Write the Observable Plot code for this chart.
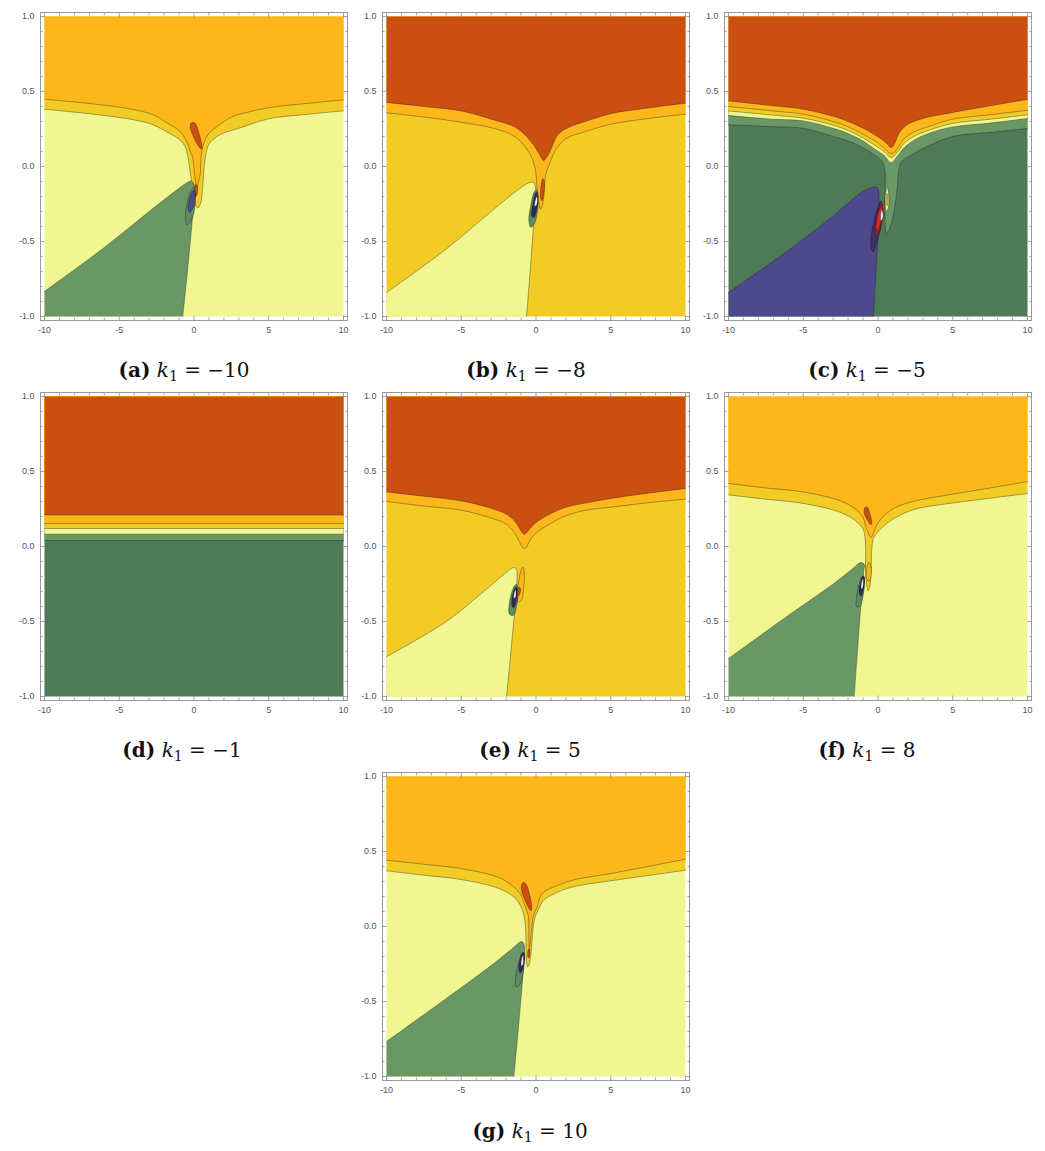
<!DOCTYPE html>
<html>
<head>
<meta charset="utf-8">
<script src="https://cdn.jsdelivr.net/npm/d3@7"></script>
<script src="https://cdn.jsdelivr.net/npm/@observablehq/plot@0.6"></script>
<style>
  body { margin: 0; background: #fff; }
  #fig { position: relative; width: 1045px; height: 1151px; overflow: hidden; }
  .panel { position: absolute; }
  .cap { position: absolute; width: 320px; text-align: center; font-family: "DejaVu Serif", serif; font-size: 20px; line-height: 24px; color: #111; white-space: nowrap; }
  .cap sub { font-size: 0.7em; vertical-align: -0.3em; line-height: 0; }
</style>
</head>
<body>
<div id="fig"></div>
<script>
// Contour fill colours
const R = "#cc4f12", O = "#fdb71b", G = "#f2cb25", Y = "#f1f790", LG = "#699866", DG = "#4e7a58",
      G2 = "#5c8b61", P = "#4d498c", DP = "#3e3262", NAVY = "#2a2c5c", RED = "#e0262a", DRED = "#93202e", W = "#ffffff";
const LINE = "#1a1a1a";

// Axis ticks
const xMajor = [-10, -5, 0, 5, 10];
const xMinor = [-9, -8, -7, -6, -4, -3, -2, -1, 1, 2, 3, 4, 6, 7, 8, 9];
const yMajor = [-1, -0.5, 0, 0.5, 1];
const yMinor = [-0.9, -0.8, -0.7, -0.6, -0.4, -0.3, -0.2, -0.1, 0.1, 0.2, 0.3, 0.4, 0.6, 0.7, 0.8, 0.9];

// Panel captions: label, k1 value
const capLabels = ["a", "b", "c", "d", "e", "f", "g"];
const k1Values = [-10, -8, -5, -1, 5, 8, 10];

// ---- (a) k1 = -10 ----
const aUpper = [[-10,0.449],[-7.5,0.425],[-5,0.396],[-3.5,0.368],[-2.5,0.335],[-1.8,0.29],[-1.0,0.24],[-0.5,0.17],[-0.25,0.1],[-0.09,0.06],[0.04,-0.05],[0.12,-0.11],[0.2,-0.14],[0.3,-0.1],[0.42,-0.05],[0.47,0.06],[0.64,0.15],[0.98,0.218],[1.53,0.265],[2.5,0.33],[3.5,0.36],[5,0.392],[7.5,0.42],[10,0.444]];
const aLower = [[-10,0.382],[-7.5,0.357],[-5,0.327],[-3.5,0.3],[-2.9,0.284],[-1.58,0.218],[-0.91,0.173],[-0.58,0.129],[-0.4,0.062],[-0.24,-0.05],[-0.09,-0.14],[0.04,-0.227],[0.15,-0.265],[0.27,-0.276],[0.4,-0.255],[0.49,-0.227],[0.58,-0.14],[0.64,-0.05],[0.76,0.062],[0.91,0.129],[1.2,0.173],[1.87,0.218],[3.1,0.258],[5,0.318],[7.5,0.347],[10,0.371]];
const aBlob = [[-0.1,0.295],[0.1,0.285],[0.28,0.24],[0.45,0.18],[0.54,0.13],[0.5,0.115],[0.35,0.13],[0.1,0.17],[-0.12,0.22],[-0.25,0.26],[-0.22,0.285]];
const aTip = [[0.1,-0.12],[0.22,-0.13],[0.2,-0.19],[0.1,-0.2],[0.05,-0.16]];
const aWedge = [[-10,-0.833],[-6,-0.54],[-3,-0.3],[-1.2,-0.16],[-0.5,-0.11],[-0.2,-0.097],[-0.02,-0.115],[0.03,-0.15],[-0.75,-1]];
const aOuter = [[-0.02,-0.14],[0.08,-0.19],[0.05,-0.28],[-0.2,-0.36],[-0.47,-0.39],[-0.58,-0.34],[-0.45,-0.24],[-0.2,-0.16]];
const aInner = [[0.05,-0.16],[0.09,-0.2],[-0.05,-0.27],[-0.3,-0.305],[-0.4,-0.28],[-0.25,-0.2],[-0.05,-0.16]];

// ---- (b) k1 = -8 ----
const bUpper = [[-10,0.427],[-7.5,0.4],[-5,0.37],[-2.7,0.307],[-1.37,0.262],[-0.48,0.184],[0.08,0.107],[0.35,0.06],[0.52,0.04],[0.7,0.06],[0.97,0.107],[1.42,0.207],[2.2,0.262],[3.3,0.3],[5,0.352],[7.5,0.39],[10,0.422]];
const bLower = [[-10,0.358],[-7.5,0.33],[-5,0.295],[-2.7,0.251],[-1.37,0.196],[-0.48,0.096],[-0.08,-0.004],[0.03,-0.08],[0.08,-0.16],[0.18,-0.24],[0.3,-0.285],[0.42,-0.26],[0.52,-0.2],[0.6,-0.1],[0.66,-0.05],[0.86,0.007],[1.3,0.107],[1.97,0.184],[3.3,0.232],[5,0.282],[7.5,0.32],[10,0.349]];
const bTip = [[0.45,-0.08],[0.55,-0.1],[0.52,-0.18],[0.4,-0.23],[0.3,-0.2],[0.35,-0.12]];
const bWedge = [[-10,-0.84],[-6,-0.55],[-3,-0.3],[-1.2,-0.155],[-0.5,-0.11],[-0.2,-0.105],[-0.05,-0.13],[-0.03,-0.17],[-0.63,-1]];
const bOuter = [[0.05,-0.155],[0.15,-0.2],[0.1,-0.3],[-0.1,-0.38],[-0.35,-0.405],[-0.48,-0.36],[-0.35,-0.26],[-0.12,-0.17]];
const bMid = [[0.05,-0.17],[0.12,-0.21],[0.05,-0.29],[-0.15,-0.34],[-0.3,-0.33],[-0.2,-0.25],[-0.05,-0.18]];
const bCore = [[0.05,-0.2],[0.1,-0.22],[0.02,-0.26],[-0.08,-0.265],[-0.06,-0.23]];

// ---- (c) k1 = -5 ----
const cRO = [[-10,0.437],[-7,0.405],[-5,0.382],[-3,0.335],[-2,0.3],[-1,0.255],[-0.2,0.21],[0.4,0.17],[0.75,0.135],[0.9,0.125],[1.1,0.15],[1.4,0.22],[1.9,0.275],[3,0.32],[5,0.36],[7.5,0.405],[10,0.447]];
const cOG = [[-10,0.4],[-7,0.37],[-5,0.349],[-3,0.3],[-2,0.265],[-1,0.215],[-0.2,0.17],[0.4,0.125],[0.9,0.085],[1.3,0.12],[1.7,0.18],[2.4,0.23],[3.5,0.27],[5,0.316],[7.5,0.345],[10,0.375]];
const cGY = [[-10,0.37],[-7,0.342],[-5,0.322],[-3,0.275],[-2,0.24],[-1,0.19],[-0.2,0.14],[0.4,0.1],[0.88,0.06],[1.3,0.095],[1.7,0.15],[2.4,0.2],[3.5,0.245],[5,0.287],[7.5,0.315],[10,0.345]];
const cYL = [[-10,0.34],[-7,0.315],[-5,0.304],[-3,0.255],[-2,0.22],[-1,0.17],[-0.2,0.115],[0.4,0.075],[0.87,0.025],[1.3,0.07],[1.7,0.12],[2.4,0.175],[3.5,0.225],[5,0.264],[7.5,0.29],[10,0.32]];
const cLD = [[-10,0.278],[-7,0.265],[-5,0.255],[-3,0.2],[-2,0.17],[-1,0.125],[-0.2,0.075],[0.3,0.03],[0.45,-0.02],[0.48,-0.15],[0.47,-0.3],[0.5,-0.42],[0.58,-0.45],[0.75,-0.42],[0.95,-0.36],[1.15,-0.25],[1.3,-0.13],[1.38,-0.03],[1.55,0.03],[2.2,0.075],[3.2,0.13],[5,0.2],[7.5,0.228],[10,0.253]];
const cWedge = [[-10,-0.84],[-6,-0.56],[-3,-0.33],[-1.2,-0.18],[-0.4,-0.14],[-0.06,-0.14],[0.05,-0.17],[-0.32,-1]];
const cYel = [[0.62,-0.14],[0.72,-0.19],[0.7,-0.27],[0.55,-0.3],[0.47,-0.24],[0.52,-0.17]];
const cGold = [[0.6,-0.18],[0.66,-0.21],[0.62,-0.26],[0.55,-0.26],[0.54,-0.21]];
const cOuter = [[0.18,-0.23],[0.3,-0.28],[0.2,-0.4],[-0.05,-0.5],[-0.33,-0.57],[-0.49,-0.53],[-0.35,-0.4],[-0.05,-0.28]];
const cRing = [[0.25,-0.24],[0.33,-0.28],[0.25,-0.38],[0.05,-0.44],[-0.18,-0.46],[-0.2,-0.4],[-0.05,-0.32],[0.12,-0.26]];
const cRed = [[0.25,-0.26],[0.3,-0.29],[0.2,-0.37],[0.0,-0.42],[-0.12,-0.42],[-0.1,-0.36],[0.05,-0.3]];
const cCore = [[0.25,-0.29],[0.33,-0.31],[0.3,-0.35],[0.2,-0.36],[0.18,-0.32]];

// ---- (d) k1 = -1 ----
const dRO = [[-10,0.21],[10,0.21]];
const dOG = [[-10,0.153],[10,0.153]];
const dGY = [[-10,0.12],[10,0.12]];
const dYL = [[-10,0.082],[10,0.082]];
const dLD = [[-10,0.04],[10,0.04]];

// ---- (e) k1 = 5 ----
const eUpper = [[-10,0.364],[-7.5,0.335],[-5,0.304],[-3,0.255],[-2,0.216],[-1.5,0.178],[-1.15,0.13],[-0.95,0.095],[-0.8,0.082],[-0.65,0.09],[-0.4,0.12],[0,0.16],[1,0.22],[2,0.262],[3.5,0.293],[5,0.32],[7.5,0.355],[10,0.387]];
const eLower = [[-10,0.3],[-7.5,0.27],[-5,0.242],[-3,0.19],[-2,0.15],[-1.5,0.1],[-1.15,0.04],[-0.95,0.0],[-0.8,-0.016],[-0.65,-0.005],[-0.4,0.04],[0,0.09],[1,0.155],[2,0.205],[3.5,0.245],[5,0.262],[7.5,0.292],[10,0.316]];
const eWedge = [[-10,-0.735],[-6,-0.5],[-3.5,-0.3],[-2.2,-0.19],[-1.7,-0.15],[-1.45,-0.14],[-1.3,-0.155],[-1.26,-0.19],[-1.97,-1]];
const eOrange = [[-0.86,-0.14],[-0.78,-0.18],[-0.83,-0.28],[-0.98,-0.36],[-1.18,-0.37],[-1.24,-0.3],[-1.1,-0.2],[-0.95,-0.145]];
const eGreen = [[-1.27,-0.255],[-1.2,-0.3],[-1.3,-0.4],[-1.52,-0.46],[-1.78,-0.45],[-1.77,-0.37],[-1.57,-0.29],[-1.38,-0.255]];
const eNavy = [[-1.3,-0.27],[-1.24,-0.3],[-1.33,-0.37],[-1.5,-0.41],[-1.62,-0.39],[-1.55,-0.32],[-1.42,-0.28]];
const eCore = [[-1.36,-0.29],[-1.33,-0.31],[-1.38,-0.34],[-1.47,-0.345],[-1.46,-0.31]];
const eTip = [[-1.1,-0.27],[-1.04,-0.29],[-1.1,-0.32],[-1.22,-0.33],[-1.22,-0.29]];

// ---- (f) k1 = 8 ----
const fUpper = [[-10,0.42],[-7.5,0.39],[-5,0.364],[-2.5,0.304],[-1.5,0.249],[-1,0.193],[-0.8,0.127],[-0.6,0.08],[-0.46,0.06],[-0.3,0.09],[-0.17,0.127],[0.28,0.193],[1.17,0.26],[2.5,0.304],[5,0.349],[7.5,0.39],[10,0.433]];
const fLower = [[-10,0.344],[-7.5,0.315],[-5,0.287],[-2.5,0.227],[-1.5,0.171],[-1,0.116],[-0.85,0.038],[-0.82,-0.05],[-0.84,-0.15],[-0.78,-0.24],[-0.66,-0.295],[-0.55,-0.27],[-0.48,-0.2],[-0.44,-0.08],[-0.39,0.016],[-0.28,0.06],[0.28,0.127],[1.17,0.193],[2.5,0.249],[5,0.29],[7.5,0.322],[10,0.353]];
const fBlob = [[-0.93,0.24],[-0.85,0.262],[-0.7,0.26],[-0.55,0.22],[-0.42,0.165],[-0.45,0.145],[-0.58,0.155],[-0.75,0.185],[-0.9,0.215]];
const fOrange = [[-0.6,-0.105],[-0.45,-0.14],[-0.5,-0.21],[-0.65,-0.235],[-0.78,-0.2],[-0.72,-0.13]];
const fWedge = [[-10,-0.747],[-6,-0.46],[-3,-0.25],[-1.6,-0.14],[-1.2,-0.107],[-1.0,-0.11],[-0.9,-0.13],[-0.95,-0.16],[-1.59,-1]];
const fOuter = [[-0.95,-0.2],[-0.9,-0.24],[-1.0,-0.33],[-1.2,-0.4],[-1.43,-0.4],[-1.42,-0.33],[-1.25,-0.25],[-1.05,-0.2]];
const fNavy = [[-0.93,-0.2],[-0.9,-0.23],[-1.0,-0.3],[-1.15,-0.33],[-1.27,-0.3],[-1.15,-0.23],[-1.0,-0.195]];
const fCore = [[-1.0,-0.215],[-0.98,-0.24],[-1.05,-0.28],[-1.12,-0.28],[-1.08,-0.23]];

// ---- (g) k1 = 10 ----
const gUpper = [[-10,0.442],[-7.5,0.415],[-5,0.386],[-2.5,0.327],[-1.5,0.265],[-1,0.209],[-0.8,0.154],[-0.6,0.1],[-0.5,0.065],[-0.48,-0.03],[-0.47,-0.12],[-0.45,-0.167],[-0.4,-0.12],[-0.3,-0.03],[-0.19,0.065],[0.08,0.132],[0.41,0.22],[1.5,0.276],[2.5,0.31],[5,0.353],[7.5,0.4],[10,0.449]];
const gLower = [[-10,0.371],[-7.5,0.342],[-5,0.313],[-2.5,0.254],[-1.5,0.198],[-1,0.132],[-0.75,0.043],[-0.68,-0.05],[-0.67,-0.15],[-0.64,-0.23],[-0.55,-0.27],[-0.45,-0.25],[-0.35,-0.19],[-0.25,-0.08],[-0.1,0.048],[0.2,0.12],[0.52,0.176],[1.5,0.231],[2.5,0.265],[5,0.305],[7.5,0.34],[10,0.375]];
const gBlob = [[-0.98,0.27],[-0.85,0.295],[-0.65,0.28],[-0.45,0.22],[-0.28,0.13],[-0.33,0.105],[-0.5,0.125],[-0.75,0.18],[-0.95,0.235]];
const gTip = [[-0.5,-0.15],[-0.42,-0.17],[-0.47,-0.21],[-0.55,-0.2]];
const gWedge = [[-10,-0.767],[-6,-0.48],[-3,-0.26],[-1.5,-0.14],[-1.1,-0.105],[-0.92,-0.1],[-0.8,-0.12],[-0.77,-0.167],[-1.48,-1]];
const gOuter = [[-0.82,-0.178],[-0.78,-0.22],[-0.88,-0.32],[-1.1,-0.39],[-1.35,-0.4],[-1.33,-0.32],[-1.15,-0.24],[-0.95,-0.18]];
const gNavy = [[-0.8,-0.175],[-0.77,-0.21],[-0.87,-0.28],[-1.05,-0.31],[-1.15,-0.28],[-1.05,-0.21],[-0.9,-0.175]];
const gCore = [[-0.87,-0.19],[-0.84,-0.22],[-0.9,-0.26],[-0.98,-0.26],[-0.96,-0.215]];

// Layer helpers: whole domain, region above a contour, wedge against the lower-left corner, closed blob
const bg = (fill) => ({fill, edge: [], corners: [[-10,-1],[10,-1],[10,1],[-10,1]]});
const above = (edge, fill) => ({fill, edge, corners: [[10,1],[-10,1]]});
const wedge = (edge, fill) => ({fill, edge, corners: [[-10,-1]]});
const blob = (edge, fill) => ({fill, edge, blob: true});

const panels = [
  {left: 0,   top: 0,   cx: 184, cy: 370,  layers: [bg(Y), above(aLower, G), above(aUpper, O), blob(aBlob, R), blob(aTip, R), wedge(aWedge, LG), blob(aOuter, G2), blob(aInner, P)]},
  {left: 342, top: 0,   cx: 526, cy: 370,  layers: [bg(G), above(bLower, O), above(bUpper, R), blob(bTip, R), wedge(bWedge, Y), blob(bOuter, G2), blob(bMid, NAVY), blob(bCore, W)]},
  {left: 684, top: 0,   cx: 867, cy: 370,  layers: [bg(DG), above(cLD, LG), above(cYL, Y), above(cGY, G), above(cOG, O), above(cRO, R), wedge(cWedge, P), blob(cYel, Y), blob(cGold, G), blob(cOuter, DP), blob(cRing, DRED), blob(cRed, RED), blob(cCore, W)]},
  {left: 0,   top: 380, cx: 182, cy: 750,  layers: [bg(DG), above(dLD, LG), above(dYL, Y), above(dGY, G), above(dOG, O), above(dRO, R)]},
  {left: 342, top: 380, cx: 530, cy: 750,  layers: [bg(G), above(eLower, O), above(eUpper, R), wedge(eWedge, Y), blob(eOrange, O), blob(eGreen, G2), blob(eNavy, NAVY), blob(eCore, W), blob(eTip, R)]},
  {left: 684, top: 380, cx: 867, cy: 750,  layers: [bg(Y), above(fLower, G), above(fUpper, O), blob(fBlob, R), blob(fOrange, O), wedge(fWedge, LG), blob(fOuter, G2), blob(fNavy, NAVY), blob(fCore, W)]},
  {left: 342, top: 760, cx: 530, cy: 1131, layers: [bg(Y), above(gLower, G), above(gUpper, O), blob(gBlob, R), blob(gTip, R), wedge(gWedge, LG), blob(gOuter, G2), blob(gNavy, NAVY), blob(gCore, W)]}
];

const px = (d) => d[0], py = (d) => d[1];
const fmtX = (d) => (d < 0 ? "-" : "") + Math.abs(d);
const fmtY = (d) => (d < 0 ? "-" : "") + Math.abs(d).toFixed(1);
const TICK = "#8c8c8c";

function axisMarks() {
  const none = () => "";
  const common = {label: null, stroke: TICK, strokeWidth: 0.8};
  const out = [];
  for (const anchor of ["bottom", "top"]) {
    out.push(Plot.axisX({...common, anchor, ticks: xMajor, tickSize: -4.5, tickFormat: none}));
    out.push(Plot.axisX({...common, anchor, ticks: xMinor, tickSize: -2.5, tickFormat: none}));
  }
  for (const anchor of ["left", "right"]) {
    out.push(Plot.axisY({...common, anchor, ticks: yMajor, tickSize: -4.5, tickFormat: none}));
    out.push(Plot.axisY({...common, anchor, ticks: yMinor, tickSize: -2.5, tickFormat: none}));
  }
  out.push(Plot.axisX({anchor: "bottom", ticks: xMajor, tickSize: 0, tickPadding: 6, tickFormat: fmtX, label: null, fill: "#555", stroke: "none", fontSize: 9}));
  out.push(Plot.axisY({anchor: "left", ticks: yMajor, tickSize: 0, tickPadding: 6, tickFormat: fmtY, label: null, fill: "#555", stroke: "none", fontSize: 9}));
  return out;
}

// Closed outline for a filled region: contour ends and domain corners are doubled
// so the Catmull-Rom spline runs straight along the domain border.
function outline(L) {
  if (L.blob) return L.edge;
  const e = L.edge, pts = [];
  if (e.length) pts.push(e[0], ...e, e[e.length - 1]);
  for (const c of L.corners) pts.push(c, c);
  return pts;
}

function layerMarks(L) {
  const marks = [Plot.line(outline(L), {x: px, y: py, fill: L.fill, stroke: "none", curve: "catmull-rom-closed"})];
  if (L.edge.length) {
    marks.push(Plot.line(L.edge, {x: px, y: py, stroke: LINE, strokeOpacity: 0.5, strokeWidth: 0.75,
      curve: L.blob ? "catmull-rom-closed" : "catmull-rom"}));
  }
  return marks;
}

const fig = document.getElementById("fig");
panels.forEach((p, i) => {
  const svg = Plot.plot({
    width: 352, height: 336,
    marginLeft: 40, marginTop: 12, marginRight: 5, marginBottom: 16,
    style: {fontFamily: "'Liberation Sans', Arial, sans-serif", background: "transparent"},
    x: {domain: [-10, 10], inset: 4},
    y: {domain: [-1, 1], inset: 4},
    marks: [
      ...p.layers.flatMap(layerMarks),
      Plot.frame({stroke: "#9a9a9a", strokeWidth: 1}),
      ...axisMarks()
    ]
  });
  const wrap = document.createElement("div");
  wrap.className = "panel";
  wrap.style.left = p.left + "px";
  wrap.style.top = p.top + "px";
  wrap.appendChild(svg);
  fig.appendChild(wrap);

  const cap = document.createElement("div");
  cap.className = "cap";
  cap.style.left = (p.cx - 160) + "px";
  cap.style.top = (p.cy - 12) + "px";
  const k = k1Values[i];
  cap.innerHTML = `<b>(${capLabels[i]})</b> <i>k</i><sub>1</sub> = ${k < 0 ? "\u2212" + Math.abs(k) : k}`;
  fig.appendChild(cap);
});
</script>
</body>
</html>
